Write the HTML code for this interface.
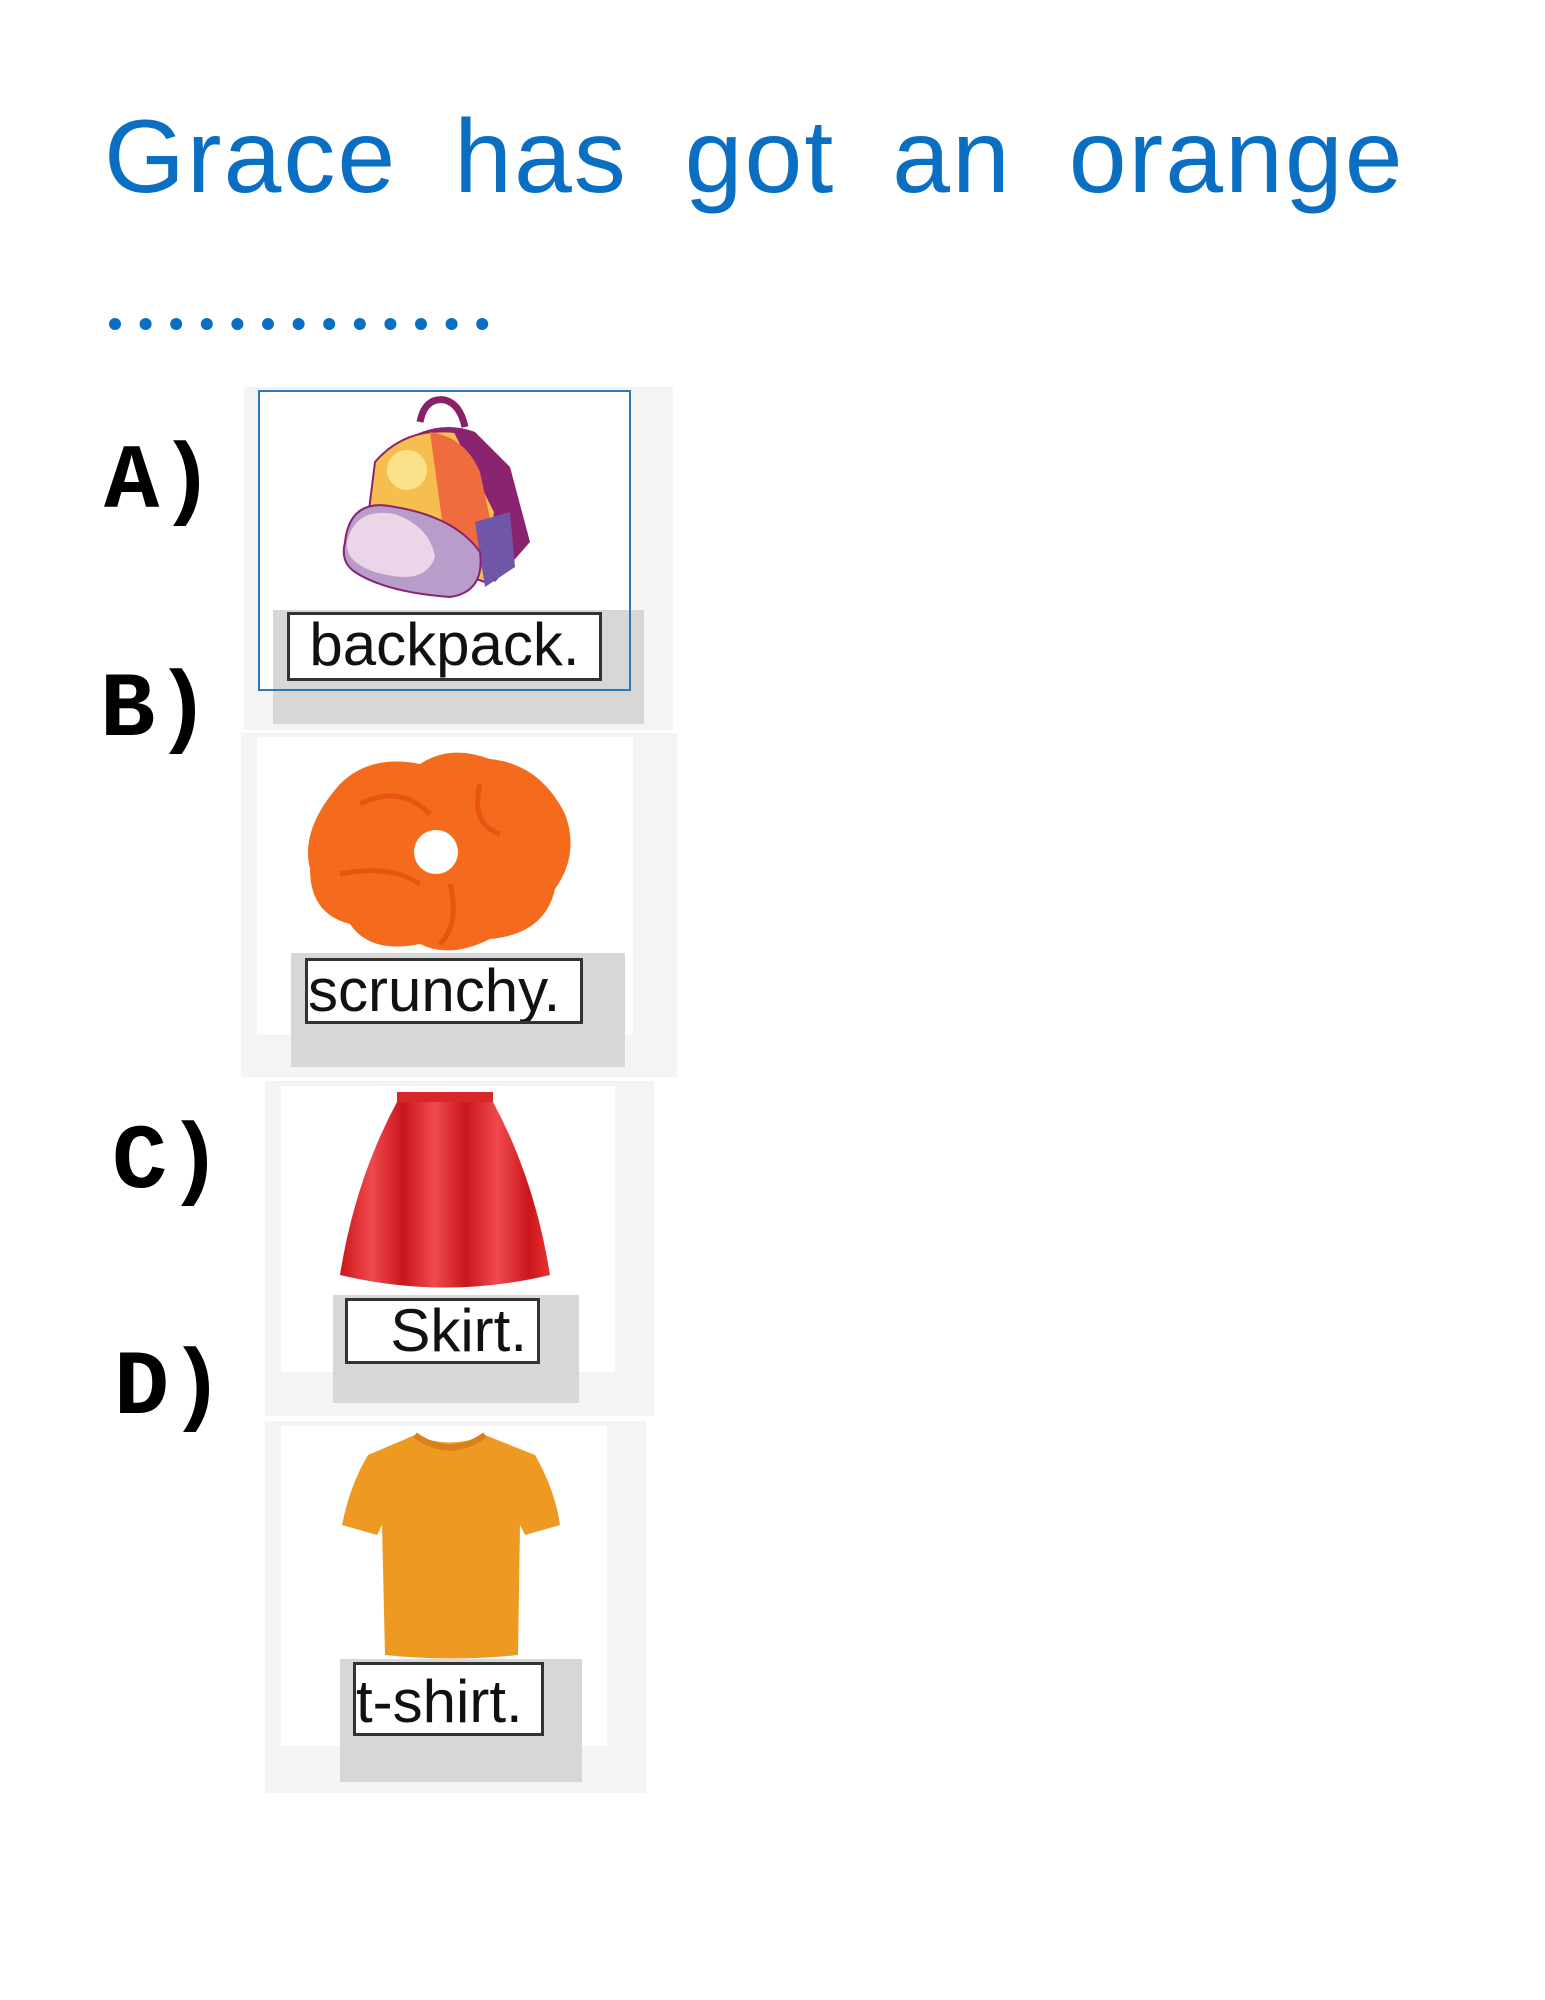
<!DOCTYPE html>
<html><head><meta charset="utf-8"><style>
body{margin:0;width:1545px;height:2000px;background:#fff;position:relative;overflow:hidden;font-family:"Liberation Sans",sans-serif}
.a{position:absolute}
.t{color:#0a6fc2;font-size:104px;left:104px;top:98px;white-space:nowrap;word-spacing:26px;letter-spacing:2px}
.L{font-family:"Liberation Mono",monospace;font-size:92px;color:#000;font-weight:bold}
.og{background:#f4f4f4}
.iw{background:#fff}
.lg{background:#d7d7d7}
.lb{background:#fff;border:3px solid #333;box-sizing:border-box;font-size:60px;color:#111;line-height:60px;text-align:center;white-space:nowrap;overflow:hidden}
</style></head><body>
<div class="a t">Grace has got an orange</div>
<svg class="a" style="left:0;top:0" width="600" height="360">
<g fill="#0a6fc2">
<circle cx="115" cy="324" r="6"/><circle cx="145.6" cy="324" r="6"/><circle cx="176.2" cy="324" r="6"/><circle cx="206.8" cy="324" r="6"/><circle cx="237.4" cy="324" r="6"/><circle cx="268" cy="324" r="6"/><circle cx="298.6" cy="324" r="6"/><circle cx="329.2" cy="324" r="6"/><circle cx="359.8" cy="324" r="6"/><circle cx="390.4" cy="324" r="6"/><circle cx="421" cy="324" r="6"/><circle cx="451.6" cy="324" r="6"/><circle cx="482.2" cy="324" r="6"/>
</g></svg>
<div class="a L" style="left:104px;top:430px">A)</div>
<div class="a L" style="left:100px;top:658px">B)</div>
<div class="a L" style="left:112px;top:1110px">C)</div>
<div class="a L" style="left:114px;top:1336px">D)</div>

<!-- A -->
<div class="a og" style="left:244px;top:387px;width:429px;height:343px"></div>
<div class="a iw" style="left:258px;top:390px;width:373px;height:301px"></div>
<div class="a lg" style="left:273px;top:610px;width:371px;height:114px"></div>
<div class="a" style="left:258px;top:390px;width:373px;height:301px;border:2px solid #2a7ab8;box-sizing:border-box"></div>
<svg class="a" style="left:335px;top:392px" width="200" height="215" viewBox="0 0 200 215">
<path d="M85 30 Q90 5 110 8 Q125 12 130 35" fill="none" stroke="#8a1f6a" stroke-width="7"/>
<path d="M60 55 Q100 25 140 40 L175 75 L195 150 L160 190 Z" fill="#8a2370"/>
<path d="M40 70 Q70 35 120 40 L160 120 L150 190 L30 150 Z" fill="#f6be4f" stroke="#8a2370" stroke-width="2"/>
<path d="M95 40 Q130 45 145 80 L160 150 L140 190 L110 150 Z" fill="#ef6c3e"/>
<path d="M140 130 L175 120 L180 175 L150 195 Z" fill="#7056a6"/>
<circle cx="72" cy="78" r="20" fill="#fbe28a"/>
<path d="M10 150 Q15 105 60 115 Q120 125 145 160 Q150 200 115 205 Q50 200 20 180 Q5 170 10 150 Z" fill="#b89dcb" stroke="#8a2370" stroke-width="2"/>
<path d="M12 150 Q20 115 60 122 Q95 135 100 165 Q90 195 40 180 Q10 170 12 150 Z" fill="#ecd5e8"/>
</svg>
<div class="a lb" style="left:287px;top:612px;width:315px;height:69px">backpack.</div>

<!-- B -->
<div class="a og" style="left:241px;top:733px;width:436px;height:344px"></div>
<div class="a iw" style="left:257px;top:737px;width:376px;height:298px"></div>
<div class="a lg" style="left:291px;top:953px;width:334px;height:114px"></div>
<svg class="a" style="left:300px;top:744px" width="276" height="212" viewBox="0 0 276 212">
<path d="M40 40 Q70 10 120 20 Q150 0 190 15 Q240 20 265 70 Q280 110 255 145 Q245 190 190 195 Q150 215 120 200 Q70 210 50 180 Q10 170 10 125 Q0 85 40 40 Z" fill="#f46b1d"/>
<path d="M60 60 Q100 40 130 70 M180 40 Q170 80 200 90 M40 130 Q90 120 120 140 M150 140 Q160 180 140 200" stroke="#e85512" stroke-width="5" fill="none"/>
<circle cx="136" cy="108" r="22" fill="#fff"/>
</svg>
<div class="a lb" style="left:305px;top:958px;width:278px;height:66px;text-align:left">scrunchy.</div>

<!-- C -->
<div class="a og" style="left:265px;top:1081px;width:389px;height:335px"></div>
<div class="a iw" style="left:281px;top:1086px;width:334px;height:286px"></div>
<div class="a lg" style="left:333px;top:1295px;width:246px;height:108px"></div>
<svg class="a" style="left:335px;top:1090px" width="225" height="205" viewBox="0 0 225 205">
<defs><linearGradient id="sk" x1="0" x2="1"><stop offset="0" stop-color="#c9161c"/><stop offset=".15" stop-color="#f04a4e"/><stop offset=".3" stop-color="#c9161c"/><stop offset=".45" stop-color="#f04a4e"/><stop offset=".6" stop-color="#c9161c"/><stop offset=".75" stop-color="#f04a4e"/><stop offset=".9" stop-color="#c9161c"/><stop offset="1" stop-color="#e33"/></linearGradient></defs>
<rect x="62" y="2" width="96" height="12" fill="#d9262b"/>
<path d="M62 12 L158 12 Q200 90 215 185 Q110 210 5 185 Q20 90 62 12 Z" fill="url(#sk)"/>
</svg>
<div class="a lb" style="left:345px;top:1298px;width:195px;height:66px;text-align:right;padding-right:10px">Skirt.</div>

<!-- D -->
<div class="a og" style="left:265px;top:1421px;width:381px;height:372px"></div>
<div class="a iw" style="left:281px;top:1426px;width:326px;height:320px"></div>
<div class="a lg" style="left:340px;top:1659px;width:242px;height:123px"></div>
<svg class="a" style="left:340px;top:1430px" width="222" height="230" viewBox="0 0 222 230">
<path d="M75 5 Q110 20 145 5 L195 25 Q215 60 220 95 L185 105 L180 95 L178 225 Q110 232 45 225 L42 95 L37 105 L2 95 Q10 55 28 25 Z" fill="#ee9a22"/>
<path d="M75 5 Q110 30 145 5" stroke="#d9801a" stroke-width="6" fill="none"/>
</svg>
<div class="a lb" style="left:353px;top:1662px;width:191px;height:74px;line-height:74px;text-align:left">t-shirt.</div>
</body></html>
